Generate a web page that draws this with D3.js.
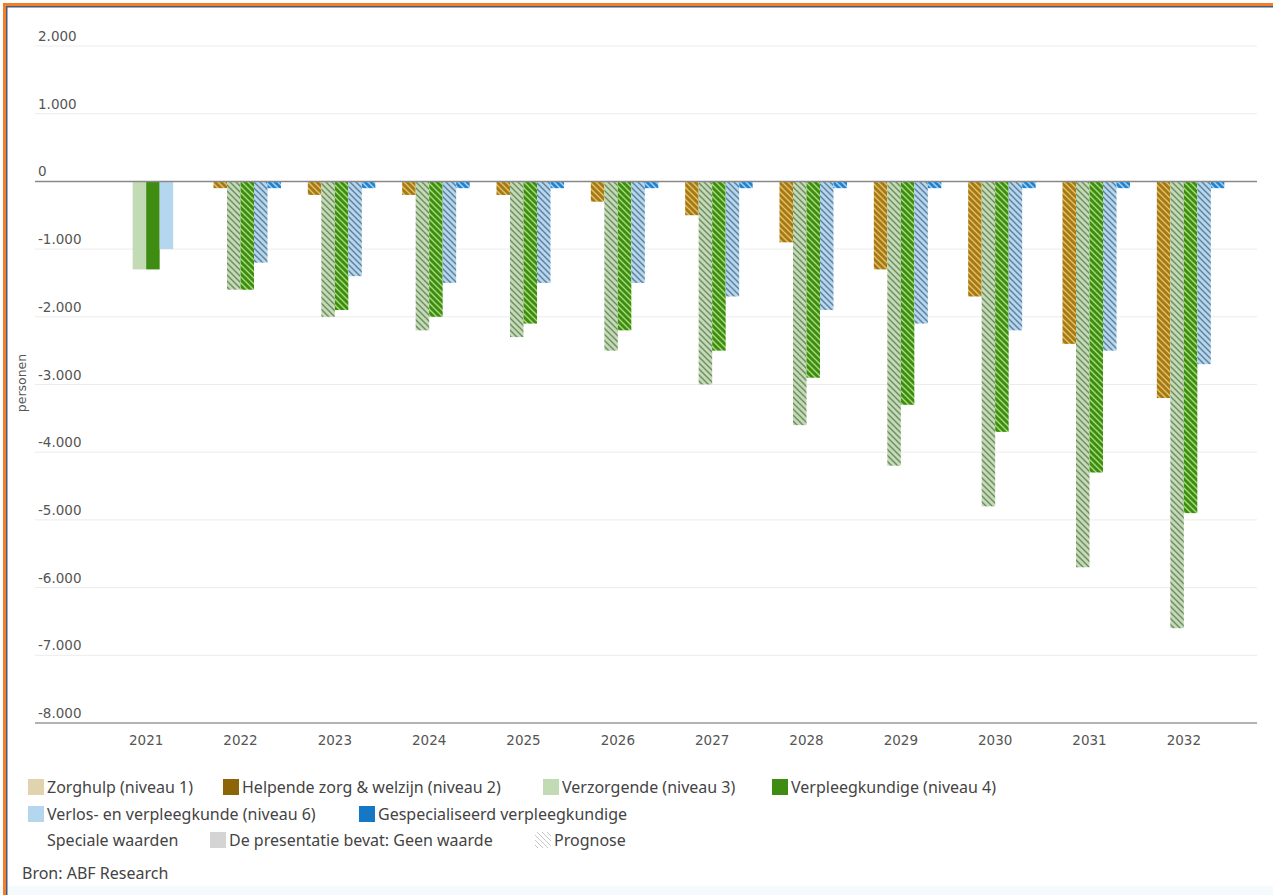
<!DOCTYPE html>
<html>
<head>
<meta charset="utf-8">
<script src="https://cdn.jsdelivr.net/npm/d3@7"></script>
<style>
  body { margin: 0; background: #fff; }
  svg { display: block; }
</style>
</head>
<body>
<svg id="chart" width="1273" height="895"></svg>
<script>
// data
var years = ["2021","2022","2023","2024","2025","2026","2027","2028","2029","2030","2031","2032"];
var series = ["Zorghulp (niveau 1)", "Helpende zorg & welzijn (niveau 2)", "Verzorgende (niveau 3)",
              "Verpleegkundige (niveau 4)", "Verlos- en verpleegkunde (niveau 6)", "Gespecialiseerd verpleegkundige"];
var zorghulp  = [null, null, null, null, null, null, null, null, null, null, null, null];
var helpende  = [null, -100, -200, -200, -200, -300, -500, -900, -1300, -1700, -2400, -3200];
var verzorg   = [-1300, -1600, -2000, -2200, -2300, -2500, -3000, -3600, -4200, -4800, -5700, -6600];
var verpleeg  = [-1300, -1600, -1900, -2000, -2100, -2200, -2500, -2900, -3300, -3700, -4300, -4900];
var verlos    = [-1000, -1200, -1400, -1500, -1500, -1500, -1700, -1900, -2100, -2200, -2500, -2700];
var gespec    = [null, -100, -100, -100, -100, -100, -100, -100, -100, -100, -100, -100];
var prognose  = [false, true, true, true, true, true, true, true, true, true, true, true];
var yTicks = [2000, 1000, 0, -1000, -2000, -3000, -4000, -5000, -6000, -7000, -8000];

var values = [zorghulp, helpende, verzorg, verpleeg, verlos, gespec];
var colors = ["#e0d3ae", "#a67a10", "#c3dbb4", "#3e8c12", "#b5d6ef", "#1f84d2"];
var hatchCol = ["#f3ead0", "#e2c070", "#6f8a66", "#a6dc7a", "#5f7f9a", "#a9d4f5"];

var svg = d3.select("#chart"),
    W = 1273, H = 895;

// screenshot frame
svg.append("rect").attr("x", 0).attr("y", 0).attr("width", W).attr("height", H).attr("fill", "#fff");
svg.append("rect").attr("x", 0).attr("y", 886).attr("width", W).attr("height", 9).attr("fill", "#f5fafd");
svg.append("rect").attr("x", 3).attr("y", 3).attr("width", W).attr("height", 3).attr("fill", "#f07f2c");
svg.append("rect").attr("x", 3).attr("y", 3).attr("width", 3).attr("height", H).attr("fill", "#f07f2c");
svg.append("rect").attr("x", 6).attr("y", 6).attr("width", W).attr("height", 1.5).attr("fill", "#4b5a78");
svg.append("rect").attr("x", 6).attr("y", 6).attr("width", 1.5).attr("height", H).attr("fill", "#4b5a78");

var defs = svg.append("defs");
colors.forEach(function(c, i) {
    var p = defs.append("pattern")
        .attr("id", "hatch" + i)
        .attr("patternUnits", "userSpaceOnUse")
        .attr("width", 6).attr("height", 6);
    p.append("rect").attr("width", 6).attr("height", 6).attr("fill", c);
    p.append("path")
        .attr("d", "M-1,-1L7,7M-1,5L1,7M5,-1L7,1")
        .attr("stroke", hatchCol[i]).attr("stroke-width", 1.4);
});
// legend hatch (no fill)
var lp = defs.append("pattern").attr("id", "hatchLegend")
    .attr("patternUnits", "userSpaceOnUse").attr("width", 5).attr("height", 5);
lp.append("path").attr("d", "M-1,-1L6,6M-1,4L1,6M4,-1L6,1")
    .attr("stroke", "#c8c8c8").attr("stroke-width", 1);

var left = 35, right = 1257;
var x = d3.scaleBand().domain(years).range([99, 1231]).paddingInner(0).paddingOuter(0);
var xs = d3.scaleBand().domain(d3.range(series.length)).range([0, 81]);
var groupOff = (x.bandwidth() - 81) / 2;
var y = d3.scaleLinear().domain([-8000, 2000]).range([723, 46]);

// Dutch style: dot as thousands separator, plain hyphen for minus
var fmt = function(d) { return d3.format(",")(d).replace(/,/g, ".").replace("\u2212", "-"); };

// gridlines
svg.append("g").selectAll("line").data(yTicks.filter(function(d) { return d !== 0 && d !== -8000; }))
    .join("line")
    .attr("x1", left).attr("x2", right)
    .attr("y1", function(d) { return y(d); }).attr("y2", function(d) { return y(d); })
    .attr("stroke", "#ececec").attr("stroke-width", 1);

svg.append("g").selectAll("text").data(yTicks).join("text")
    .attr("x", 38).attr("y", function(d) { return y(d) - 5; })
    .attr("font-family", "'DejaVu Sans', sans-serif").attr("font-size", 13.5)
    .attr("fill", "#555")
    .text(fmt);

svg.append("text")
    .attr("transform", "translate(26,383) rotate(-90)")
    .attr("text-anchor", "middle")
    .attr("font-family", "'DejaVu Sans', sans-serif").attr("font-size", 12.5)
    .attr("fill", "#555").text("personen");

// bars
var bars = [];
years.forEach(function(yr, j) {
    values.forEach(function(arr, i) {
        if (arr[j] != null) bars.push({ year: yr, s: i, v: arr[j], prog: prognose[j] });
    });
});
svg.append("g").selectAll("rect").data(bars).join("rect")
    .attr("x", function(d) { return x(d.year) + groupOff + xs(d.s); })
    .attr("width", xs.bandwidth())
    .attr("y", function(d) { return y(Math.max(0, d.v)); })
    .attr("height", function(d) { return Math.abs(y(d.v) - y(0)); })
    .attr("fill", function(d) { return d.prog ? "url(#hatch" + d.s + ")" : colors[d.s]; });

// zero line and bottom axis
svg.append("line").attr("x1", left).attr("x2", right).attr("y1", y(0)).attr("y2", y(0))
    .attr("stroke", "#888").attr("stroke-width", 1.5);
svg.append("line").attr("x1", left).attr("x2", right).attr("y1", y(-8000)).attr("y2", y(-8000))
    .attr("stroke", "#999").attr("stroke-width", 1.5);

svg.append("g").selectAll("text").data(years).join("text")
    .attr("x", function(d) { return x(d) + x.bandwidth() / 2; })
    .attr("y", 745)
    .attr("text-anchor", "middle")
    .attr("font-family", "'DejaVu Sans', sans-serif").attr("font-size", 13.5)
    .attr("fill", "#555").text(function(d) { return d; });

// legend
var legendItems = [
    { x: 28, row: 0, fill: colors[0], label: series[0] },
    { x: 223, row: 0, fill: "#8c6508", label: series[1] },
    { x: 543, row: 0, fill: colors[2], label: series[2] },
    { x: 772, row: 0, fill: colors[3], label: series[3] },
    { x: 28, row: 1, fill: colors[4], label: series[4] },
    { x: 359, row: 1, fill: "#1478c4", label: series[5] },
    { x: 28, row: 2, fill: null, label: "Speciale waarden" },
    { x: 210, row: 2, fill: "#d4d4d4", label: "De presentatie bevat: Geen waarde" },
    { x: 535, row: 2, fill: "url(#hatchLegend)", label: "Prognose" }
];
var rowY = [787, 814, 840];
var lg = svg.append("g").selectAll("g").data(legendItems).join("g");
lg.filter(function(d) { return d.fill; }).append("rect")
    .attr("x", function(d) { return d.x; })
    .attr("y", function(d) { return rowY[d.row] - 8; })
    .attr("width", 16).attr("height", 16)
    .attr("fill", function(d) { return d.fill; });
lg.append("text")
    .attr("x", function(d) { return d.x + 19; })
    .attr("y", function(d) { return rowY[d.row] + 5.5; })
    .attr("font-family", "'Noto Sans', sans-serif").attr("font-size", 16)
    .attr("fill", "#444").text(function(d) { return d.label; });

svg.append("text").attr("x", 22).attr("y", 879)
    .attr("font-family", "'Noto Sans', sans-serif").attr("font-size", 16)
    .attr("fill", "#444").text("Bron: ABF Research");
</script>
</body>
</html>
